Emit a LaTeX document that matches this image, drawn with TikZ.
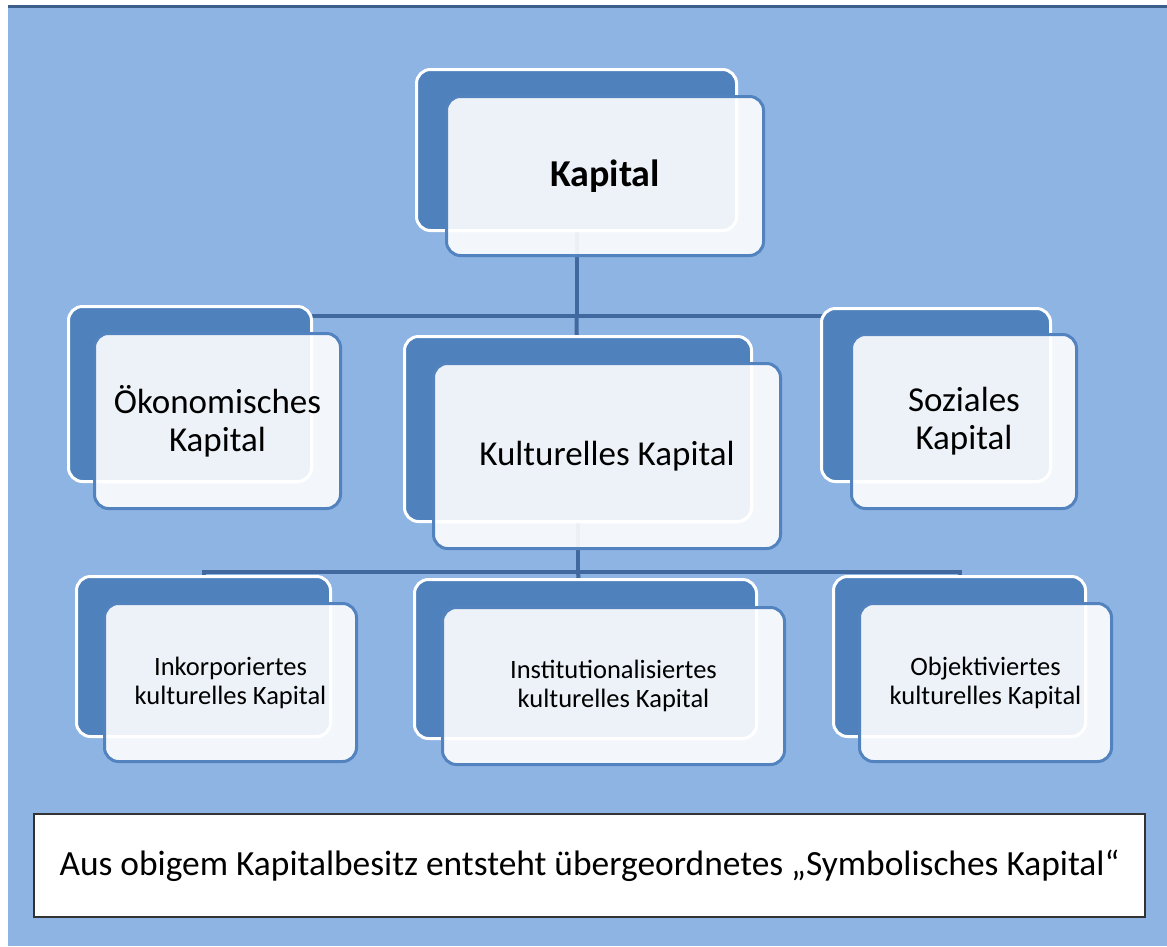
\documentclass[tikz,border=0pt]{standalone}
\usepackage{fontspec}
\setmainfont{Carlito}
\usepackage{xcolor}
\usetikzlibrary{positioning,calc}
\definecolor{bgblue}{HTML}{8EB4E3}
\definecolor{topbar}{HTML}{3B5E8C}
\definecolor{boxblue}{HTML}{4F81BD}
\definecolor{edgeblue}{HTML}{5283BF}
\definecolor{linkblue}{HTML}{41699F}
\pgfdeclarelayer{canvas}
\pgfdeclarelayer{links}
\pgfsetlayers{canvas,links,main}
\tikzset{
  backbox/.style={draw=white,line width=3pt,fill=boxblue,rounded corners=14pt,inner sep=0pt},
  frontbox/.style={draw=edgeblue,line width=3pt,fill=white,fill opacity=0.9,text opacity=1,rounded corners=14pt,inner sep=0pt,align=center},
  bigtxt/.style={font=\fontsize{38}{44}\selectfont\bfseries},
  midtxt/.style={font=\fontsize{35}{38}\selectfont},
  smalltxt/.style={font=\fontsize{26.5}{29}\selectfont},
  link/.style={draw=linkblue,line width=4pt},
  notebox/.style={draw=black!80,line width=1.2pt,fill=white,inner sep=0pt,font=\fontsize{35.4}{40}\selectfont}
}

\begin{document}
\begin{tikzpicture}[x=1pt,y=-1pt]
          \useasboundingbox (0,0) rectangle (1167,946);
          %% canvas
          \begin{pgfonlayer}{canvas}
            \fill[bgblue] (8,8) rectangle (1167,946);
            \fill[topbar] (8,5) rectangle (1167,8);
          \end{pgfonlayer}
          %% level 1
          \node[backbox,minimum width=320pt,minimum height=161pt] (kapB) at (576.5,150) {};
          \node[frontbox,bigtxt,minimum width=317pt,minimum height=159pt] (kap) at (605,176) {Kapital};
          %% level 2
          \node[backbox,minimum width=243pt,minimum height=175pt] (oekB) at (190,394) {};
          \node[frontbox,midtxt,minimum width=246pt,minimum height=175pt] (oek) at (217.5,421) {Ökonomisches\\Kapital};
          \node[backbox,minimum width=347pt,minimum height=185pt] (kulB) at (578,429) {};
          \node[frontbox,midtxt,minimum width=347pt,minimum height=185pt] (kul) at (607,456) {Kulturelles Kapital};
          \node[backbox,minimum width=229pt,minimum height=173pt] (sozB) at (936,395) {};
          \node[frontbox,midtxt,minimum width=225pt,minimum height=174pt] (soz) at (964,421.5) {Soziales\\Kapital};
          %% level 3
          \node[backbox,minimum width=254pt,minimum height=160pt] (inkB) at (203.5,656.5) {};
          \node[frontbox,smalltxt,minimum width=252pt,minimum height=158pt] (ink) at (230.5,682.5) {Inkorporiertes\\kulturelles Kapital};
          \node[backbox,minimum width=342pt,minimum height=159pt] (insB) at (585.5,659) {};
          \node[frontbox,smalltxt,minimum width=342pt,minimum height=157pt] (ins) at (613.5,686) {Institutionalisiertes\\kulturelles Kapital};
          \node[backbox,minimum width=252pt,minimum height=160pt] (objB) at (959.5,656.5) {};
          \node[frontbox,smalltxt,minimum width=252pt,minimum height=158pt] (obj) at (985.5,682.5) {Objektiviertes\\kulturelles Kapital};
          %% note
          \node[notebox,minimum width=1111pt,minimum height=103pt] (note) at (589.5,865.5) {Aus obigem Kapitalbesitz entsteht übergeordnetes „Symbolisches Kapital“};
          %% connectors
          \coordinate (kapfork) at ($(kapB.center)+(0,166)$);
          \coordinate (kulfork) at ($(kulB.center)+(0,143)$);
          \begin{pgfonlayer}{links}
            \draw[link](kapB.center)--(kapfork);
            \draw[link](kapfork)-|(oekB.center);\draw[link](kapfork)-|(sozB.center);
            \draw[link](kapfork)--(kulB.center);
            \draw[link](kulB.center)--(kulfork);
            \draw[link](kulfork)-|(inkB.center);\draw[link](kulfork)-|(objB.center);
            \draw[link](kulfork)--(insB.center);
          \end{pgfonlayer}
        \end{tikzpicture}
\end{document}
